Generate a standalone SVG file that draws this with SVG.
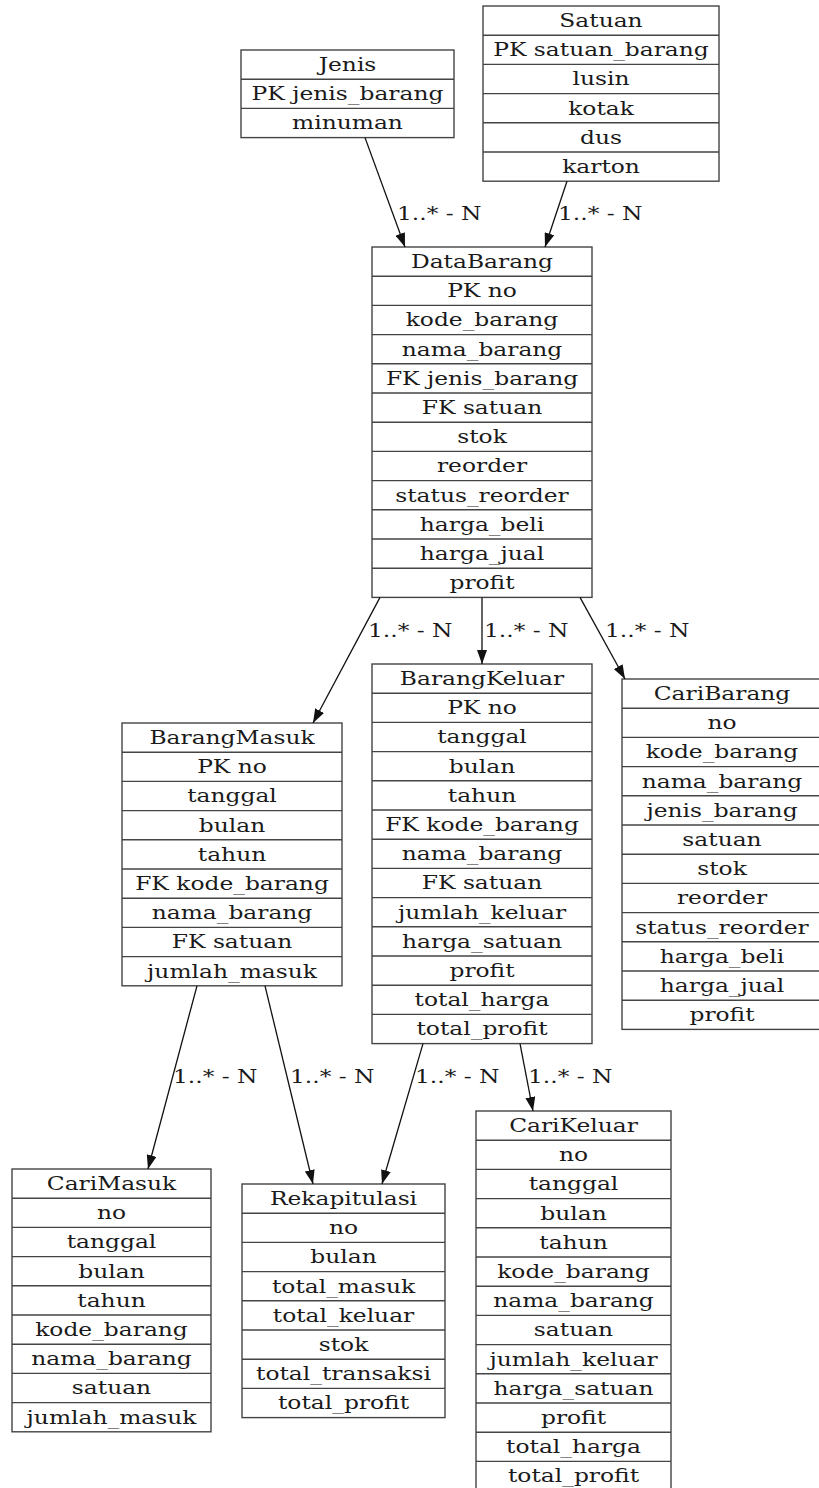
<svg xmlns="http://www.w3.org/2000/svg" width="819" height="1488" viewBox="0 0 819 1488">
<style>
.box{fill:#fff;stroke:#444;stroke-width:1.4}
.sep{stroke:#444;stroke-width:1.4}
text{font-family:"DejaVu Serif","Liberation Serif",serif;font-size:19px;fill:#1a1a1a}
.c{text-anchor:middle}
.edge{stroke:#111;stroke-width:1.3;fill:none}
</style>
<defs>
<marker id="arr" markerUnits="userSpaceOnUse" markerWidth="14" markerHeight="10" refX="14" refY="5" orient="auto">
<path d="M0,0 L14,5 L0,10 z" fill="#111"/>
</marker>
</defs>
<rect width="819" height="1488" fill="#fff"/>

<g id="Jenis">
<rect class="box" x="241" y="50" width="213" height="87.6"/>
<path class="sep" d="M241,79.2H454M241,108.4H454"/>
<text class="c" transform="translate(347.5,71) scale(1.23,1)">Jenis</text>
<text class="c" transform="translate(347.5,100.2) scale(1.23,1)">PK jenis_barang</text>
<text class="c" transform="translate(347.5,129.4) scale(1.23,1)">minuman</text>
</g>

<g id="Satuan">
<rect class="box" x="483" y="6" width="236" height="175.2"/>
<path class="sep" d="M483,35.2H719M483,64.4H719M483,93.6H719M483,122.8H719M483,152H719"/>
<text class="c" transform="translate(601,27) scale(1.23,1)">Satuan</text>
<text class="c" transform="translate(601,56.2) scale(1.23,1)">PK satuan_barang</text>
<text class="c" transform="translate(601,85.4) scale(1.23,1)">lusin</text>
<text class="c" transform="translate(601,114.6) scale(1.23,1)">kotak</text>
<text class="c" transform="translate(601,143.8) scale(1.23,1)">dus</text>
<text class="c" transform="translate(601,173) scale(1.23,1)">karton</text>
</g>

<g id="DataBarang">
<rect class="box" x="372" y="247" width="220" height="350.4"/>
<path class="sep" d="M372,276.2H592M372,305.4H592M372,334.6H592M372,363.8H592M372,393H592M372,422.2H592M372,451.4H592M372,480.6H592M372,509.8H592M372,539H592M372,568.2H592"/>
<text class="c" transform="translate(482,268) scale(1.23,1)">DataBarang</text>
<text class="c" transform="translate(482,297.2) scale(1.23,1)">PK no</text>
<text class="c" transform="translate(482,326.4) scale(1.23,1)">kode_barang</text>
<text class="c" transform="translate(482,355.6) scale(1.23,1)">nama_barang</text>
<text class="c" transform="translate(482,384.8) scale(1.23,1)">FK jenis_barang</text>
<text class="c" transform="translate(482,414) scale(1.23,1)">FK satuan</text>
<text class="c" transform="translate(482,443.2) scale(1.23,1)">stok</text>
<text class="c" transform="translate(482,472.4) scale(1.23,1)">reorder</text>
<text class="c" transform="translate(482,501.6) scale(1.23,1)">status_reorder</text>
<text class="c" transform="translate(482,530.8) scale(1.23,1)">harga_beli</text>
<text class="c" transform="translate(482,560) scale(1.23,1)">harga_jual</text>
<text class="c" transform="translate(482,589.2) scale(1.23,1)">profit</text>
</g>

<g id="BarangMasuk">
<rect class="box" x="122" y="723" width="220" height="262.8"/>
<path class="sep" d="M122,752.2H342M122,781.4H342M122,810.6H342M122,839.8H342M122,869H342M122,898.2H342M122,927.4H342M122,956.6H342"/>
<text class="c" transform="translate(232,744) scale(1.23,1)">BarangMasuk</text>
<text class="c" transform="translate(232,773.2) scale(1.23,1)">PK no</text>
<text class="c" transform="translate(232,802.4) scale(1.23,1)">tanggal</text>
<text class="c" transform="translate(232,831.6) scale(1.23,1)">bulan</text>
<text class="c" transform="translate(232,860.8) scale(1.23,1)">tahun</text>
<text class="c" transform="translate(232,890) scale(1.23,1)">FK kode_barang</text>
<text class="c" transform="translate(232,919.2) scale(1.23,1)">nama_barang</text>
<text class="c" transform="translate(232,948.4) scale(1.23,1)">FK satuan</text>
<text class="c" transform="translate(232,977.6) scale(1.23,1)">jumlah_masuk</text>
</g>

<g id="BarangKeluar">
<rect class="box" x="372" y="664" width="220" height="379.6"/>
<path class="sep" d="M372,693.2H592M372,722.4H592M372,751.6H592M372,780.8H592M372,810H592M372,839.2H592M372,868.4H592M372,897.6H592M372,926.8H592M372,956H592M372,985.2H592M372,1014.4H592"/>
<text class="c" transform="translate(482,685) scale(1.23,1)">BarangKeluar</text>
<text class="c" transform="translate(482,714.2) scale(1.23,1)">PK no</text>
<text class="c" transform="translate(482,743.4) scale(1.23,1)">tanggal</text>
<text class="c" transform="translate(482,772.6) scale(1.23,1)">bulan</text>
<text class="c" transform="translate(482,801.8) scale(1.23,1)">tahun</text>
<text class="c" transform="translate(482,831) scale(1.23,1)">FK kode_barang</text>
<text class="c" transform="translate(482,860.2) scale(1.23,1)">nama_barang</text>
<text class="c" transform="translate(482,889.4) scale(1.23,1)">FK satuan</text>
<text class="c" transform="translate(482,918.6) scale(1.23,1)">jumlah_keluar</text>
<text class="c" transform="translate(482,947.8) scale(1.23,1)">harga_satuan</text>
<text class="c" transform="translate(482,977) scale(1.23,1)">profit</text>
<text class="c" transform="translate(482,1006.2) scale(1.23,1)">total_harga</text>
<text class="c" transform="translate(482,1035.4) scale(1.23,1)">total_profit</text>
</g>

<g id="CariBarang">
<rect class="box" x="622" y="679" width="200" height="350.4"/>
<path class="sep" d="M622,708.2H822M622,737.4H822M622,766.6H822M622,795.8H822M622,825H822M622,854.2H822M622,883.4H822M622,912.6H822M622,941.8H822M622,971H822M622,1000.2H822"/>
<text class="c" transform="translate(722,700) scale(1.23,1)">CariBarang</text>
<text class="c" transform="translate(722,729.2) scale(1.23,1)">no</text>
<text class="c" transform="translate(722,758.4) scale(1.23,1)">kode_barang</text>
<text class="c" transform="translate(722,787.6) scale(1.23,1)">nama_barang</text>
<text class="c" transform="translate(722,816.8) scale(1.23,1)">jenis_barang</text>
<text class="c" transform="translate(722,846) scale(1.23,1)">satuan</text>
<text class="c" transform="translate(722,875.2) scale(1.23,1)">stok</text>
<text class="c" transform="translate(722,904.4) scale(1.23,1)">reorder</text>
<text class="c" transform="translate(722,933.6) scale(1.23,1)">status_reorder</text>
<text class="c" transform="translate(722,962.8) scale(1.23,1)">harga_beli</text>
<text class="c" transform="translate(722,992) scale(1.23,1)">harga_jual</text>
<text class="c" transform="translate(722,1021.2) scale(1.23,1)">profit</text>
</g>

<g id="CariMasuk">
<rect class="box" x="12" y="1169" width="199" height="262.8"/>
<path class="sep" d="M12,1198.2H211M12,1227.4H211M12,1256.6H211M12,1285.8H211M12,1315H211M12,1344.2H211M12,1373.4H211M12,1402.6H211"/>
<text class="c" transform="translate(111.5,1190) scale(1.23,1)">CariMasuk</text>
<text class="c" transform="translate(111.5,1219.2) scale(1.23,1)">no</text>
<text class="c" transform="translate(111.5,1248.4) scale(1.23,1)">tanggal</text>
<text class="c" transform="translate(111.5,1277.6) scale(1.23,1)">bulan</text>
<text class="c" transform="translate(111.5,1306.8) scale(1.23,1)">tahun</text>
<text class="c" transform="translate(111.5,1336) scale(1.23,1)">kode_barang</text>
<text class="c" transform="translate(111.5,1365.2) scale(1.23,1)">nama_barang</text>
<text class="c" transform="translate(111.5,1394.4) scale(1.23,1)">satuan</text>
<text class="c" transform="translate(111.5,1423.6) scale(1.23,1)">jumlah_masuk</text>
</g>

<g id="Rekapitulasi">
<rect class="box" x="242" y="1184" width="203" height="233.6"/>
<path class="sep" d="M242,1213.2H445M242,1242.4H445M242,1271.6H445M242,1300.8H445M242,1330H445M242,1359.2H445M242,1388.4H445"/>
<text class="c" transform="translate(343.5,1205) scale(1.23,1)">Rekapitulasi</text>
<text class="c" transform="translate(343.5,1234.2) scale(1.23,1)">no</text>
<text class="c" transform="translate(343.5,1263.4) scale(1.23,1)">bulan</text>
<text class="c" transform="translate(343.5,1292.6) scale(1.23,1)">total_masuk</text>
<text class="c" transform="translate(343.5,1321.8) scale(1.23,1)">total_keluar</text>
<text class="c" transform="translate(343.5,1351) scale(1.23,1)">stok</text>
<text class="c" transform="translate(343.5,1380.2) scale(1.23,1)">total_transaksi</text>
<text class="c" transform="translate(343.5,1409.4) scale(1.23,1)">total_profit</text>
</g>

<g id="CariKeluar">
<rect class="box" x="476" y="1111" width="195" height="379.6"/>
<path class="sep" d="M476,1140.2H671M476,1169.4H671M476,1198.6H671M476,1227.8H671M476,1257H671M476,1286.2H671M476,1315.4H671M476,1344.6H671M476,1373.8H671M476,1403H671M476,1432.2H671M476,1461.4H671"/>
<text class="c" transform="translate(573.5,1132) scale(1.23,1)">CariKeluar</text>
<text class="c" transform="translate(573.5,1161.2) scale(1.23,1)">no</text>
<text class="c" transform="translate(573.5,1190.4) scale(1.23,1)">tanggal</text>
<text class="c" transform="translate(573.5,1219.6) scale(1.23,1)">bulan</text>
<text class="c" transform="translate(573.5,1248.8) scale(1.23,1)">tahun</text>
<text class="c" transform="translate(573.5,1278) scale(1.23,1)">kode_barang</text>
<text class="c" transform="translate(573.5,1307.2) scale(1.23,1)">nama_barang</text>
<text class="c" transform="translate(573.5,1336.4) scale(1.23,1)">satuan</text>
<text class="c" transform="translate(573.5,1365.6) scale(1.23,1)">jumlah_keluar</text>
<text class="c" transform="translate(573.5,1394.8) scale(1.23,1)">harga_satuan</text>
<text class="c" transform="translate(573.5,1424) scale(1.23,1)">profit</text>
<text class="c" transform="translate(573.5,1453.2) scale(1.23,1)">total_harga</text>
<text class="c" transform="translate(573.5,1482.4) scale(1.23,1)">total_profit</text>
</g>

<g id="connectors">
<line class="edge" x1="365" y1="137.6" x2="405" y2="247" marker-end="url(#arr)"/>
<line class="edge" x1="567" y1="181.2" x2="545" y2="247" marker-end="url(#arr)"/>
<line class="edge" x1="380" y1="597.4" x2="313" y2="723" marker-end="url(#arr)"/>
<line class="edge" x1="482" y1="597.4" x2="482" y2="664" marker-end="url(#arr)"/>
<line class="edge" x1="580" y1="597.4" x2="625" y2="679" marker-end="url(#arr)"/>
<line class="edge" x1="197" y1="985.8" x2="148" y2="1169" marker-end="url(#arr)"/>
<line class="edge" x1="265" y1="985.8" x2="313" y2="1184" marker-end="url(#arr)"/>
<line class="edge" x1="423" y1="1043.6" x2="382" y2="1184" marker-end="url(#arr)"/>
<line class="edge" x1="520" y1="1043.6" x2="533" y2="1111" marker-end="url(#arr)"/>
<text transform="translate(397,220) scale(1.23,1)">1..* - N</text>
<text transform="translate(558,220) scale(1.23,1)">1..* - N</text>
<text transform="translate(368,637) scale(1.23,1)">1..* - N</text>
<text transform="translate(484,637) scale(1.23,1)">1..* - N</text>
<text transform="translate(605,637) scale(1.23,1)">1..* - N</text>
<text transform="translate(173,1083) scale(1.23,1)">1..* - N</text>
<text transform="translate(290,1083) scale(1.23,1)">1..* - N</text>
<text transform="translate(415,1083) scale(1.23,1)">1..* - N</text>
<text transform="translate(528,1083) scale(1.23,1)">1..* - N</text>
</g>
</svg>
